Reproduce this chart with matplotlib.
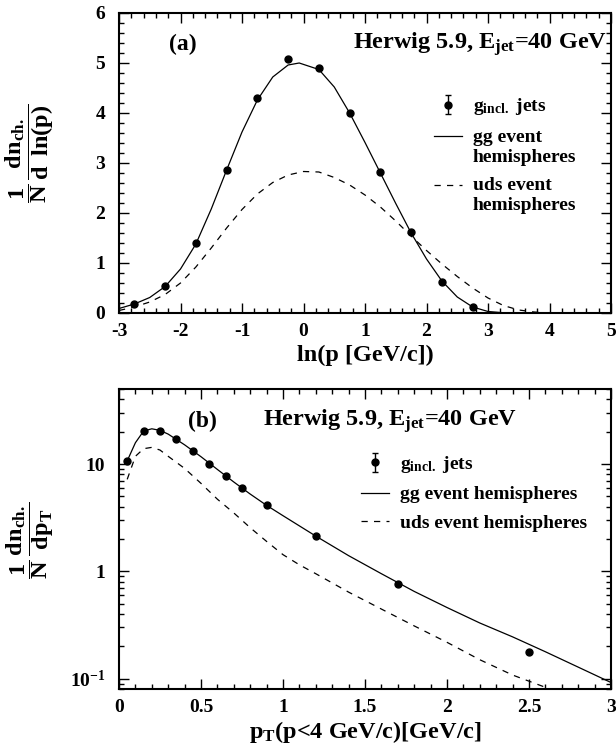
import numpy as np
import matplotlib
matplotlib.use('Agg')
import matplotlib.pyplot as plt
from matplotlib.ticker import (MultipleLocator, FixedLocator, FixedFormatter, LogLocator,
                               NullFormatter, FormatStrFormatter)
from matplotlib.legend_handler import HandlerLine2D

plt.rcParams['font.family'] = 'Liberation Serif'
plt.rcParams['font.weight'] = 'bold'
plt.rcParams['axes.labelweight'] = 'bold'
plt.rcParams['axes.unicode_minus'] = False
plt.rcParams['mathtext.fontset'] = 'custom'
plt.rcParams['mathtext.rm'] = 'Liberation Serif:bold'
plt.rcParams['mathtext.it'] = 'Liberation Serif:bold'
plt.rcParams['mathtext.bf'] = 'Liberation Serif:bold'
plt.rcParams['mathtext.default'] = 'rm'

# ---- (a) ln(p) distribution ----
lnp_pts = [-2.75, -2.25, -1.75, -1.25, -0.75, -0.25, 0.25, 0.75, 1.25, 1.75, 2.25, 2.75]
gincl_lnp = [0.18, 0.53, 1.40, 2.85, 4.29, 5.07, 4.89, 3.99, 2.81, 1.61, 0.61, 0.11]

lnp_gg = [-3, -2.75, -2.5, -2.25, -2, -1.75, -1.5, -1.25, -1, -0.75, -0.5, -0.25, -0.07,
          0.25, 0.5, 0.75, 1, 1.25, 1.5, 1.75, 2, 2.25, 2.5, 2.75, 3, 3.25, 3.5]
gg_lnp = [0.09, 0.18, 0.31, 0.53, 0.88, 1.38, 2.08, 2.86, 3.62, 4.26, 4.72, 4.96, 5.0,
          4.87, 4.52, 4.0, 3.41, 2.8, 2.19, 1.6, 1.08, 0.64, 0.32, 0.12, 0.03, 0.005, 0.0]

lnp_uds = [-3, -2.75, -2.5, -2.25, -2, -1.75, -1.5, -1.25, -1, -0.75, -0.5, -0.25, 0,
           0.25, 0.5, 0.75, 1, 1.25, 1.5, 1.75, 2, 2.25, 2.5, 2.75, 3, 3.25, 3.5, 3.75, 4]
uds_lnp = [0.05, 0.12, 0.22, 0.37, 0.6, 0.92, 1.3, 1.7, 2.07, 2.38, 2.61, 2.76, 2.83,
           2.82, 2.71, 2.56, 2.36, 2.12, 1.84, 1.54, 1.25, 0.98, 0.73, 0.5, 0.3, 0.15, 0.06, 0.02, 0.0]

# ---- (b) pT distribution ----
pt_pts = [0.05, 0.15, 0.25, 0.35, 0.45, 0.55, 0.65, 0.75, 0.9, 1.2, 1.7, 2.5]
gincl_pt = [10.7, 20.3, 20.5, 17.0, 13.2, 10.1, 7.74, 6.0, 4.12, 2.12, 0.767, 0.178]

pt_gg = [0.05, 0.1, 0.15, 0.2, 0.25, 0.3, 0.4, 0.5, 0.6, 0.7, 0.8, 0.9, 1.0,
         1.2, 1.4, 1.6, 1.8, 2.0, 2.2, 2.4, 2.6, 2.8, 3.0]
gg_pt = [10.7, 15.8, 20.3, 21.3, 20.6, 19.0, 15.1, 11.7, 8.9, 6.8, 5.25, 4.12, 3.3,
         2.13, 1.4, 0.95, 0.65, 0.46, 0.33, 0.245, 0.178, 0.128, 0.092]

pt_uds = [0.05, 0.1, 0.15, 0.2, 0.25, 0.3, 0.4, 0.5, 0.6, 0.7, 0.8, 0.9, 1.0, 1.1,
          1.2, 1.4, 1.6, 1.8, 2.0, 2.2, 2.4, 2.6, 2.65]
uds_pt = [7.2, 11.8, 13.9, 14.3, 13.5, 11.8, 9.1, 6.6, 4.7, 3.5, 2.55, 1.9, 1.43, 1.15,
          0.95, 0.64, 0.445, 0.31, 0.218, 0.15, 0.108, 0.083, 0.077]

leg_labels_a = [r'$g_{incl.}\ jets$', 'gg event\nhemispheres', 'uds event\nhemispheres']
leg_labels_b = [r'$g_{incl.}\ jets$', 'gg event hemispheres', 'uds event hemispheres']
title_text = r'Herwig 5.9, $E_{jet}$=40 GeV'
ylabel_a = r'$\dfrac{1}{N}\,\dfrac{dn_{ch.}}{d\ \,ln(p)}$'
ylabel_b = r'$\dfrac{1}{N}\,\dfrac{dn_{ch.}}{dp_{T}}$'


class FirstLineHandler(HandlerLine2D):
    # put the line sample next to the first line of a two-line label
    def create_artists(self, legend, orig_handle, xdescent, ydescent,
                       width, height, fontsize, trans):
        arts = super().create_artists(legend, orig_handle, xdescent, ydescent,
                                      width, height, fontsize, trans)
        for a in arts:
            a.set_ydata(np.asarray(a.get_ydata()) + 0.55 * fontsize)
        return arts


def style_axes(ax):
    for s in ax.spines.values():
        s.set_linewidth(1.5)
    ax.tick_params(which='both', direction='in', top=True, right=True, width=1.0,
                   labelsize=14)
    ax.tick_params(which='major', length=7)
    ax.tick_params(which='minor', length=3.5)
    ax.tick_params(axis='y', pad=10)
    ax.tick_params(axis='x', pad=7)


fig = plt.figure(figsize=(6.16, 7.47), dpi=100)
ax1 = fig.add_axes([0.1932, 0.581, 0.7987, 0.4016])
ax2 = fig.add_axes([0.1932, 0.0776, 0.7987, 0.4016])

# panel (a)
l_gg, = ax1.plot(lnp_gg, gg_lnp, 'k-', lw=0.9)
l_uds, = ax1.plot(lnp_uds, uds_lnp, 'k--', lw=0.9, dashes=(5, 5))
err1 = ax1.errorbar(lnp_pts, gincl_lnp, yerr=np.zeros(len(lnp_pts)), fmt='o', color='k',
                    ms=5, capsize=2.5, elinewidth=1)
ax1.set_xlim(-3, 5)
ax1.set_ylim(0, 6)
ax1.xaxis.set_major_locator(MultipleLocator(1))
ax1.xaxis.set_minor_locator(MultipleLocator(0.2))
ax1.yaxis.set_major_locator(MultipleLocator(1))
ax1.yaxis.set_minor_locator(MultipleLocator(0.2))
style_axes(ax1)
ax1.set_xlabel('ln(p [GeV/c])', fontsize=17.5, labelpad=4)
ax1.set_ylabel(ylabel_a, fontsize=17.5, ha='left')
ax1.yaxis.set_label_coords(-0.128, 0.367)
ax1.text(-1.96, 5.37, '(a)', ha='center', va='center', fontsize=17)
ax1.text(4.94, 5.37, title_text, ha='right', va='center', fontsize=17.5)
ax1.legend([err1, l_gg, l_uds], leg_labels_a, loc='upper left',
           bbox_to_anchor=(0.64, 0.722), frameon=False, fontsize=14,
           borderpad=0, borderaxespad=0, handlelength=1.45, handletextpad=0.55,
           labelspacing=0.6,
           handler_map={l_gg: FirstLineHandler(), l_uds: FirstLineHandler()})

# panel (b)
m_gg, = ax2.plot(pt_gg, gg_pt, 'k-', lw=0.9)
m_uds, = ax2.plot(pt_uds, uds_pt, 'k--', lw=0.9, dashes=(5, 5))
err2 = ax2.errorbar(pt_pts, gincl_pt, yerr=np.zeros(len(pt_pts)), fmt='o', color='k',
                    ms=5, capsize=2.5, elinewidth=1)
ax2.set_yscale('log')
ax2.set_xlim(0, 3)
ax2.set_ylim(0.08, 50)
ax2.xaxis.set_major_locator(MultipleLocator(0.5))
ax2.xaxis.set_minor_locator(MultipleLocator(0.1))
ax2.yaxis.set_major_locator(FixedLocator([0.1, 1, 10]))
ax2.yaxis.set_major_formatter(FixedFormatter([r'$10^{-1}$', '1', '10']))
ax2.yaxis.set_minor_locator(LogLocator(base=10, subs=np.arange(2, 10)))
ax2.yaxis.set_minor_formatter(NullFormatter())
style_axes(ax2)
ax2.xaxis.set_major_formatter(FormatStrFormatter('%g'))
ax2.set_xlabel(r'$p_{T}$(p<4 GeV/c)[GeV/c]', fontsize=17.5, labelpad=2)
ax2.set_ylabel(ylabel_b, fontsize=17.5, ha='left')
ax2.yaxis.set_label_coords(-0.128, 0.367)
ax2.text(0.51, 24.9, '(b)', ha='center', va='center', fontsize=17)
ax2.text(0.875, 24.9, title_text, ha='left', va='center', fontsize=17.5)
ax2.legend([err2, m_gg, m_uds], leg_labels_b, loc='upper left',
           bbox_to_anchor=(0.492, 0.783), frameon=False, fontsize=14,
           borderpad=0, borderaxespad=0, handlelength=1.45, handletextpad=0.55,
           labelspacing=0.55)

fig.savefig('out.png', dpi=100)
